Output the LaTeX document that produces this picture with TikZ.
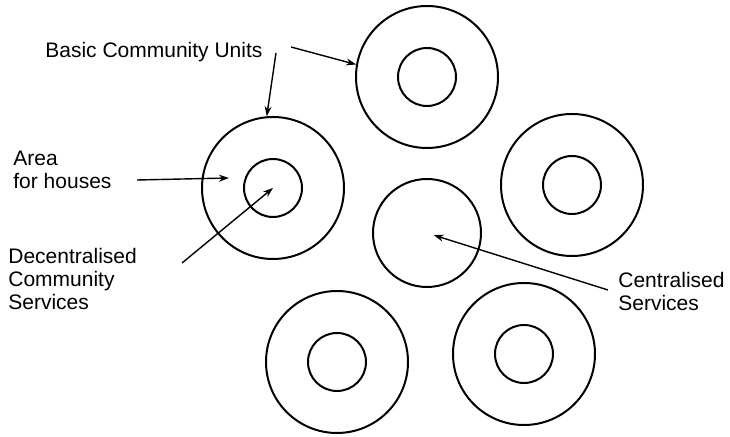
\documentclass[tikz,border=0pt]{standalone}
\usepackage{fontspec}
\setmainfont{Liberation Sans}
\usetikzlibrary{arrows.meta,positioning}

\tikzset{
  unit/.style={circle, draw, line width=1pt, minimum size=71pt, inner sep=0pt},
  core/.style={circle, draw, line width=1pt, minimum size=29pt, inner sep=0pt},
  centre/.style={circle, draw, line width=1pt, minimum size=54pt, inner sep=0pt},
  caption/.style={align=left, inner sep=0pt, font=\fontsize{10.5}{11.5}\selectfont},
  pointer/.style={-{Stealth[length=5pt,width=3.5pt]}, line width=0.7pt},
}

\begin{document}
\begin{tikzpicture}[x=0.5pt, y=-0.5pt]
  \useasboundingbox (0,0) rectangle (730,437);
  % five basic community units round the centre
  \foreach \name/\x/\y in {top/427/77, rgt/572/185, brt/524/354, blt/337/362, lft/273/188} {
    \node[unit] (\name) at (\x,\y) {};
    \node[core] (\name-core) at (\x,\y) {};
  }
  \node[centre] (ctr) at (427,233) {};

  % captions (base = last line)
  \node[caption, anchor=base west] (bcu) at (45,58) {Basic Community Units};
  \node[caption, anchor=base west] (afh) at (13,189) {Area\\for houses};
  \node[caption, anchor=base west] (dcs) at (8,310) {Decentralised\\Community\\Services};
  \node[caption, anchor=base west] (cs) at (618,311) {Centralised\\Services};

  \coordinate (bcu-a) at (291,47);
  \coordinate (bcu-b) at (276,53);
  \coordinate (afh-tail) at (137,180);
  \coordinate (houses) at (229,178);
  \coordinate (dcs-tail) at (182,263);
  \coordinate (cs-tail) at (608,290);

  \draw[pointer] (bcu-a) -- (top.170);
  \draw[pointer] (bcu-b) -- (lft.95);
  \draw[pointer] (afh-tail) -- (houses);
  \draw[pointer] (dcs-tail) -- (lft-core.center);
  \draw[pointer, shorten >=3.5pt] (cs-tail) -- (ctr.center);
\end{tikzpicture}
\end{document}
